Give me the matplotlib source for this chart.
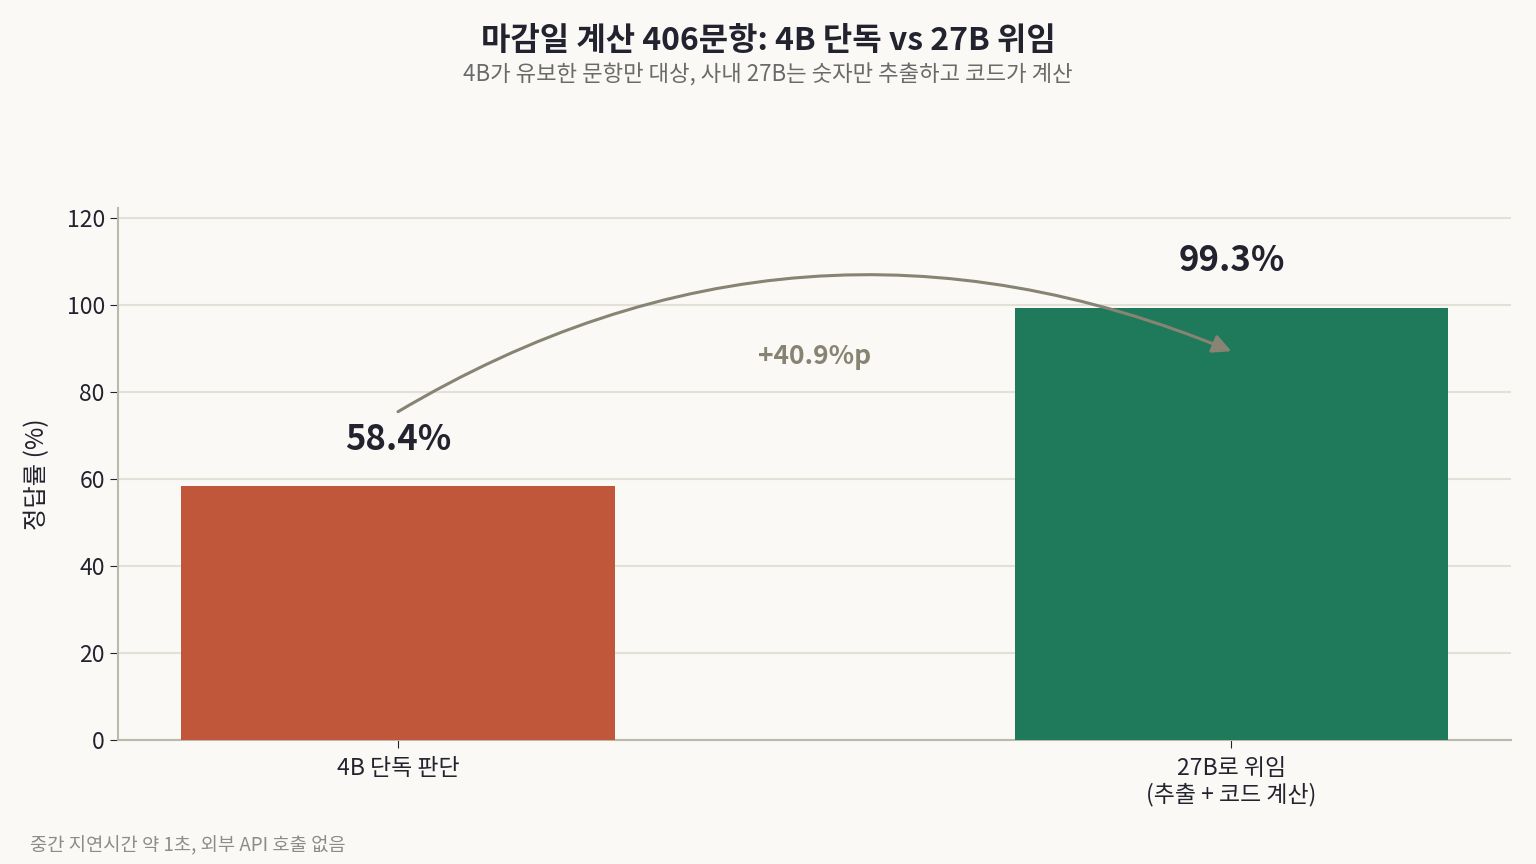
import matplotlib
matplotlib.use("Agg")
import matplotlib.pyplot as plt
from matplotlib.patches import FancyArrowPatch

plt.rcParams['font.family'] = ['Noto Sans CJK KR', 'DejaVu Sans']

# data
categories = ['4B 단독 판단', '27B로 위임\n(추출 + 코드 계산)']
accuracy = [58.4, 99.3]
bar_colors = ['#C0573B', '#1F7A5C']
yticks = [0, 20, 40, 60, 80, 100, 120]
gain_label = '+40.9%p'

title = '마감일 계산 406문항: 4B 단독 vs 27B 위임'
subtitle = '4B가 유보한 문항만 대상, 사내 27B는 숫자만 추출하고 코드가 계산'
footer = '중간 지연시간 약 1초, 외부 API 호출 없음'

bg = '#FAF9F6'
dark = '#23232F'
spine_col = '#BDB9A8'
grid_col = '#E3E0D8'
arrow_col = '#888474'

fig = plt.figure(figsize=(15.36, 8.64), dpi=100, facecolor=bg)
ax = fig.add_axes([0.0768, 0.1435, 0.9072, 0.6155])
ax.set_facecolor(bg)

x = list(range(len(categories)))
bars = ax.bar(x, accuracy, width=0.52, color=bar_colors, zorder=3)
ax.set_ylim(0, max(accuracy) * 1.23)
ax.set_yticks(yticks)
ax.set_xticks(x)
ax.set_xticklabels(categories, fontsize=16.5, color=dark, linespacing=1.15)
ax.tick_params(axis='y', labelsize=16.5, labelcolor=dark, length=6, color=dark)
ax.tick_params(axis='x', length=6, color=dark, pad=6)
ax.set_ylabel('정답률 (%)', fontsize=17.5, color=dark, labelpad=12)

ax.grid(axis='y', color=grid_col, linewidth=1.5, zorder=0)
ax.set_axisbelow(True)
for s in ['top', 'right']:
    ax.spines[s].set_visible(False)
for s in ['left', 'bottom']:
    ax.spines[s].set_color(spine_col)
    ax.spines[s].set_linewidth(1.5)

for xi, v in zip(x, accuracy):
    ax.text(xi, v + 6.7, f'{v}%', ha='center', va='bottom', fontsize=25,
            fontweight='semibold', color=dark, zorder=5)

# arrow from 4B to 27B
arr = FancyArrowPatch((x[0], accuracy[0] + 17), (x[1], accuracy[1] - 10),
                      connectionstyle='arc3,rad=-0.25', arrowstyle='-|>',
                      mutation_scale=28, linewidth=2.2, color=arrow_col,
                      shrinkA=0, shrinkB=0, zorder=6)
ax.add_patch(arr)
ax.text((x[0] + x[1]) / 2, 88.0, gain_label, ha='center', va='center',
        fontsize=19, fontweight='semibold', color=arrow_col, zorder=6)

fig.text(0.5, 0.952, title, ha='center', va='center', fontsize=23,
         fontweight='bold', color=dark)
fig.text(0.5, 0.913, subtitle, ha='center', va='center', fontsize=16,
         color='#6A6A6A')
fig.text(0.0195, 0.021, footer, ha='left', va='center', fontsize=13.5,
         color='#8C8C8C')

fig.savefig('out.png', dpi=100, facecolor=bg)
